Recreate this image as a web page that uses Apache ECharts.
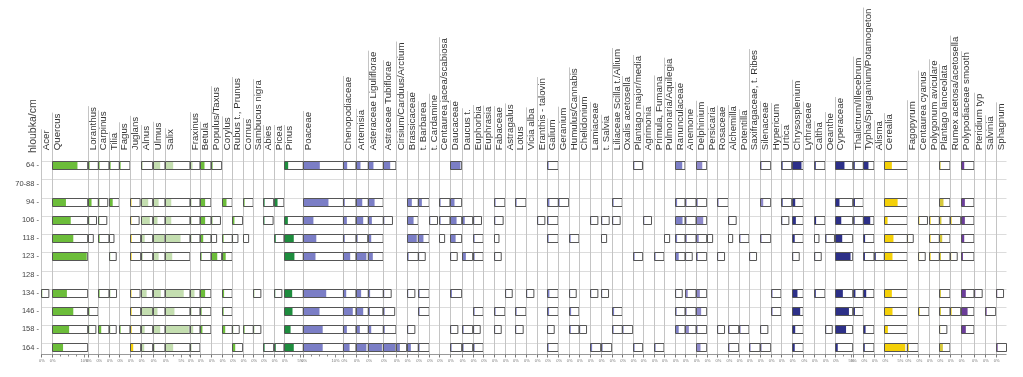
<!DOCTYPE html>
<html lang="cs">
<head>
<meta charset="UTF-8">
<title>Pylový diagram</title>
<script src="https://cdn.jsdelivr.net/npm/echarts@6/dist/echarts.min.js"></script>
<style>
    html, body { margin: 0; padding: 0; background: #fff; }
    #main { width: 1023px; height: 377px; }
</style>
</head>
<body>
<div id="main"></div>
<script>
// hloubky (radky diagramu), 70-88 a 128 bez vzorku
var depths = ['64', '70-88', '94', '106', '118', '123', '128', '134', '146', '158', '164'];
var sampled = ['64', '94', '106', '118', '123', '134', '146', '158', '164'];

// dreviny -- sirka sloupce v %, barevna skupina, hodnoty v % pro vzorky
var treeNames = ['Acer', 'Quercus', 'Loranthus', 'Carpinus', 'Tilia', 'Fagus', 'Juglans', 'Alnus', 'Ulmus', 'Salix',
    'Fraxinus', 'Betula', 'Populus/Taxus', 'Corylus', 'Rubus t., Prunus', 'Cornus', 'Sambucus nigra', 'Abies', 'Picea', 'Pinus'];
var treeSpan = [3.34, 11.25, 3.31, 3.34, 3.22, 3.34, 3.34, 3.75, 3.84, 7.81,
    3.13, 3.44, 3.34, 3.31, 3.25, 3.31, 3.13, 3.25, 3.22, 6.03];
var treeTint = ['g', 'g', 'g', 'g', 'g', 'g', 'y', 'lg', 'lg', 'lg',
    'lg', 'g', 'g', 'g', 'g', 'g', 'g', 'dg', 'dg', 'dg'];
var treePct = [
    [0, 0, 0, 0, 0, .23, 0, 0, 0],
    [7.8, 4.2, 5.7, 6.5, 10.7, 4.5, 6.5, 5.2, 3.3],
    [.35, .95, .25, .15, 0, 0, .3, .23, 0],
    [.35, .29, .26, .35, 0, .35, 0, .85, 0],
    [.35, 1.0, 0, .14, .21, .22, 0, .21, 0],
    [.35, 0, 0, 0, 0, 0, 0, .35, 0],
    [0, .3, .27, .35, .35, .3, .35, .35, .85],
    [.4, 2.1, 2.6, 1.0, .4, 1.6, 3.4, 1.0, .85],
    [2.1, 1.6, 1.25, 3.3, 1.6, 2.3, 1.25, 2.1, .4],
    [2.4, 1.8, 1.8, 4.7, 2.1, 5.7, 2.8, 7.3, 2.4],
    [.63, .35, .35, .35, 0, 1.25, .35, .85, .35],
    [1.25, 1.45, 1.45, .85, .35, 1.45, .35, .6, 0],
    [.35, 0, .28, .16, 1.8, 0, 0, 0, 0],
    [0, 1.25, 0, .35, 1.0, .5, .35, .85, 0],
    [0, 0, .6, .17, 0, 0, 0, .21, .85],
    [0, .35, 0, .16, 0, 0, 0, .35, 0],
    [0, 0, 0, 0, 0, .23, 0, .23, 0],
    [0, .35, .3, 0, 0, 0, 0, 0, .35],
    [0, .95, 0, .4, 0, .23, 0, 0, .4],
    [1.15, 0, 1.05, 2.9, 3.1, 2.4, 2.5, 1.9, 2.9]
];

// byliny
var herbNames = ['Poaceae', 'Chenopodiaceae', 'Artemisia', 'Asteraceae Liguliflorae', 'Astraceae Tubiflorae',
    'Cirsium/Carduus/Arctium', 'Brassicaceae', 't. Barbarea', 't. Cardamine', 'Centaurea jacea/scabiosa',
    'Daucaceae', 'Daucus t.', 'Euphorbia', 'Euphrasia', 'Fabaceae', 'Astragalus', 'Lotus', 'Vicia alba',
    'Eranthis - talovin', 'Galium', 'Geranium', 'Humulus/Cannabis', 'Chelidonium', 'Lamiaceae', 't. Salvia',
    'Liliaceae Scilla t./Allium', 'Oxalis acetosella', 'Plantago major/media', 'Agrimonia', 'Primula, Fumana',
    'Pulmonaria/Aquilegia'];
var herbSpan = [12.56, 3.91, 3.84, 4.69, 3.97, 3.34, 3.63, 3.44, 3.13, 3.34,
    3.66, 3.44, 3.31, 3.34, 3.44, 3.13, 3.44, 3.34, 3.31, 3.44,
    3.25, 3.22, 3.44, 3.34, 3.44, 3.31, 3.25, 3.13, 3.53, 3.13, 3.44];
var herbPct = [
    [5.1, 7.8, 3.1, 4.0, 3.75, 7.1, 5.0, 6.0, 6.0],
    [1.15, .4, 1.05, .4, 2.1, .85, 2.9, 1.05, 1.9],
    [1.25, 1.8, 2.1, .35, 3.1, 1.45, 2.1, 1.05, 3.1],
    [1.55, 1.9, 1.05, .85, 1.35, .5, .45, .85, 4.2],
    [2.1, 0, .28, 0, 0, .24, .35, .4, 3.6],
    [0, 0, 0, 0, 0, 0, 0, 0, 1.05],
    [0, 1.35, 1.9, 2.9, .35, .23, 0, .23, 1.05],
    [0, 1.05, 0, 1.55, .21, .35, .35, 0, .35],
    [0, 0, .25, 0, 0, 0, 0, 0, 0],
    [0, .35, .35, .16, 0, 0, 0, 0, 0],
    [3.1, 1.25, 1.9, 1.6, .21, .45, 0, .23, .35],
    [0, 0, .7, 0, 1.05, 0, 0, .35, .35],
    [0, 0, .25, .35, .35, 0, .35, .21, .35],
    [0, 0, 0, 0, 0, 0, 0, 0, 0],
    [0, .33, .27, .14, .21, 0, .33, .21, 0],
    [0, 0, 0, 0, 0, .21, 0, 0, 0],
    [0, .35, 0, 0, 0, 0, .35, .24, 0],
    [0, 0, 0, 0, 0, .23, 0, 0, 0],
    [0, 0, .23, 0, 0, 0, 0, 0, 0],
    [.35, .6, .33, .35, 0, .6, .5, .21, .35],
    [0, .35, 0, 0, 0, 0, 0, 0, 0],
    [0, 0, 0, .35, 0, .21, .5, .4, 0],
    [0, 0, 0, 0, 0, 0, 0, .22, 0],
    [0, 0, .23, 0, 0, .23, 0, 0, .5],
    [0, 0, .24, .16, 0, .22, 0, 0, .35],
    [0, .35, .24, 0, 0, 0, .5, .35, 0],
    [0, 0, 0, 0, 0, 0, 0, .33, 0],
    [.28, 0, 0, 0, .35, 0, 0, 0, .35],
    [0, 0, .25, 0, 0, 0, 0, 0, 0],
    [0, 0, 0, 0, .33, 0, 0, 0, .35],
    [0, 0, 0, .16, 0, 0, 0, 0, 0]
];

var herb2Names = ['Ranunculaceae', 'Anemone', 'Delphinium', 'Persicaria', 'Rosaceae', 'Alchemilla', 'Potentilla',
    'Saxifragaceae, t. Ribes', 'Silenaceae', 'Hypericum', 'Urtica', 'Chrysosplenium', 'Lythraceae', 'Caltha', 'Oeanthe'];
var herb2Span = [3.13, 3.44, 3.34, 3.31, 3.44, 3.25, 3.22, 3.44, 3.34, 3.22, 3.34, 3.63, 3.34, 3.44, 3.13];
var herb2Tint = ['b', 'lb', 'lb', 'lb', 'lb', 'lb', 'lb', 'lb', 'lb', 'lb', 'n', 'n', 'n', 'n', 'n'];
var herb2Pct = [
    [2.1, .5, 2.2, .5, 1.0, .21, .35, 1.0, 0],
    [0, .35, .35, .4, .21, .7, .35, 1.05, 0],
    [1.8, .4, 2.1, .7, .4, 1.05, 1.45, .35, 1.25],
    [0, 0, 0, .16, 0, 0, 0, 0, 0],
    [0, .35, 0, 0, .22, 0, 0, .22, 0],
    [0, 0, .24, .13, 0, 0, 0, .35, .35],
    [0, 0, 0, .33, 0, 0, 0, .35, 0],
    [0, 0, 0, 0, .22, 0, 0, 0, .35],
    [.35, .85, 0, .35, 0, 0, 0, .23, .35],
    [0, 0, 0, 0, 0, .35, .35, 0, 0],
    [.35, .35, .23, 0, 0, 0, 0, 0, 0],
    [2.8, .85, 1.05, .7, .21, 1.55, 2.4, .85, .7],
    [0, 0, 0, 0, 0, 0, 0, 0, 0],
    [.4, 0, .5, .14, .21, .4, 0, 0, 0],
    [0, 0, 0, .28, 0, 0, 0, .21, 0]
];

// mokrad, kulturni plodiny, vytrusy
var restNames = ['Cyperaceae', 'Thalictrum/Illecebrum', 'Typha/Sparganium/Potamogeton', 'Alisma', 'Cerealia',
    'Fagopyrum', 'Centaurea cyanus', 'Polygonum aviculare', 'Plantago lanceolata', 'Rumex acetosa/acetosella',
    'Polypodiaceae smooth', 'Pteridium typ', 'Salvinia', 'Sphagnum'];
var restSpan = [5.53, 3.31, 3.34, 3.22, 7.19, 3.44, 3.34, 3.22, 3.34, 3.34, 4.16, 3.44, 3.34, 3.38];
var restTint = ['n', 'n', 'n', 'n', 'y', 'y', 'y', 'y', 'o', 'y', 'p', 'p', 'p', 'p'];
var restPct = [
    [2.8, 1.25, 1.8, 2.1, 4.7, 2.3, 4.2, 3.3, .7],
    [.4, .45, .35, 0, 0, .6, .45, 0, 0],
    [1.55, 0, 2.1, .5, .45, .85, 0, .65, .4],
    [0, 0, 0, 0, .4, 0, 0, 0, 0],
    [2.3, 4.1, .95, 2.8, 2.5, 2.3, 2.5, 1.05, 6.5],
    [0, 0, 0, .18, 0, 0, 0, 0, .4],
    [0, 0, .28, 0, .21, 0, .35, 0, 0],
    [0, 0, .35, .33, .35, 0, 0, 0, 0],
    [.35, 1.25, .6, .85, .45, .45, .45, .23, 1.05],
    [0, 0, .35, 0, .21, 0, .35, 0, 0],
    [.85, 1.05, 1.05, .85, .45, 1.35, 1.9, 1.35, 0],
    [0, 0, 0, 0, 0, .24, 0, 0, 0],
    [0, 0, 0, 0, 0, 0, .35, 0, 0],
    [0, 0, 0, 0, 0, .22, 0, 0, .35]
];

var tintColor = {g: '#6cbd3a', lg: '#c4deb0', dg: '#1e8c3e', y: '#f4d008', o: '#d6c83a',
    b: '#7b7ec6', lb: '#8d88ca', n: '#2d3088', p: '#6b3d99'};
var exaggeration = 10;

var names = treeNames.concat(herbNames, herb2Names, restNames);
var spans = treeSpan.concat(herbSpan, herb2Span, restSpan);
var tints = treeTint.concat(herbNames.map(function () { return 'b'; }), herb2Tint, restTint);
var pct = treePct.concat(herbPct, herb2Pct, restPct);

var starts = [];
var total = 0;
spans.forEach(function (s) { starts.push(total); total += s; });

var fontFam = '"Liberation Sans", Arial, sans-serif';
var labelSize = 9.7;
var measure = document.createElement('canvas').getContext('2d');
measure.font = labelSize + 'px ' + fontFam;

var colData = names.map(function (n, i) { return [starts[i], 0, spans[i], i]; });
var rowData = depths.map(function (d, i) { return [0, i]; });

function geom(api) {
    var sz = api.size([1, 1]);
    return {k: sz[0], band: sz[1], barH: Math.round(sz[1] * 0.46)};
}

function renderGrid(params, api) {
    var g = geom(api);
    var cs = params.coordSys;
    var cy = api.coord([0, api.value(1)])[1];
    var y = Math.round(cy - g.barH / 2) + 0.5;
    return {type: 'line', shape: {x1: cs.x, y1: y, x2: cs.x + cs.width, y2: y},
        style: {stroke: '#dcdcdc', lineWidth: 1}, silent: true};
}

function renderColumn(params, api) {
    var g = geom(api);
    var i = api.value(3);
    var x0 = api.coord([api.value(0), 0])[0];
    var x1 = api.coord([api.value(0) + api.value(2), 0])[0];
    var xl = Math.round(x0) + 0.5;
    var row0 = api.coord([0, 0])[1];
    var labelY = row0 - 15;
    var axisY = Math.round(api.coord([0, depths.length - 1])[1] + g.band * 0.36) + 0.5;
    var textW = measure.measureText(names[i]).width;
    var kids = [];

    kids.push({type: 'line', shape: {x1: xl, y1: labelY - textW - 1, x2: xl, y2: axisY},
        style: {stroke: '#c4c4c4', lineWidth: 1}});
    kids.push({type: 'text', x: x0 + 0.3, y: labelY, rotation: Math.PI / 2,
        style: {text: names[i], fontSize: labelSize, fontFamily: fontFam,
            fill: '#333', align: 'left', verticalAlign: 'top'}});

    var color = tintColor[tints[i]];
    pct[i].forEach(function (v, s) {
        if (!v) return;
        var cy = api.coord([0, depths.indexOf(sampled[s])])[1];
        var yt = Math.round(cy - g.barH / 2) + 0.5;
        var room = x1 - xl;
        var wBox = Math.min(v * exaggeration * g.k, room);
        var wFill = Math.min(v * g.k, room);
        kids.push({type: 'rect', shape: {x: xl, y: yt, width: wBox, height: g.barH},
            style: {fill: '#fff', stroke: null}});
        kids.push({type: 'rect', shape: {x: xl, y: yt, width: wFill, height: g.barH},
            style: {fill: color, stroke: null}});
        kids.push({type: 'rect', shape: {x: xl, y: yt, width: wBox, height: g.barH},
            style: {fill: null, stroke: '#555', lineWidth: 1}});
    });

    // spodni osa sloupce
    kids.push({type: 'line', shape: {x1: x0, y1: axisY, x2: x1, y2: axisY},
        style: {stroke: '#999', lineWidth: 1}});
    kids.push({type: 'line', shape: {x1: xl, y1: axisY, x2: xl, y2: axisY + 3},
        style: {stroke: '#777', lineWidth: 1}});
    kids.push({type: 'text', x: x0 + 1, y: axisY + 4,
        style: {text: '0%', fontSize: 4, fill: '#777', align: 'center', verticalAlign: 'top'}});
    var span = api.value(2);
    if (span > 5) {
        for (var t = 2.5; t < span; t += 2.5) {
            var xt = Math.round(api.coord([api.value(0) + t, 0])[0]) + 0.5;
            var major = (span >= 10 && t === 10) || (span < 10 && t === 5);
            kids.push({type: 'line', shape: {x1: xt, y1: axisY, x2: xt, y2: axisY + (major ? 3 : 2)},
                style: {stroke: '#888', lineWidth: 1}});
            if (major) {
                kids.push({type: 'text', x: xt, y: axisY + 4,
                    style: {text: t + '%', fontSize: 4, fill: '#777', align: 'center', verticalAlign: 'top'}});
            }
        }
    }
    return {type: 'group', children: kids};
}

var chart = echarts.init(document.getElementById('main'), null, {renderer: 'canvas'});
chart.setOption({
    animation: false,
    backgroundColor: '#fff',
    grid: {left: 41, right: 16.5, top: 156.1, bottom: 20.4},
    xAxis: {type: 'value', min: 0, max: total, show: false},
    yAxis: {
        type: 'category', data: depths, inverse: true,
        axisLine: {show: false}, axisTick: {show: false}, splitLine: {show: false},
        axisLabel: {fontSize: 7.5, color: '#444', margin: 2, fontFamily: fontFam,
            formatter: function (v) { return v + ' -'; }}
    },
    graphic: [{
        type: 'text', x: 28, y: 153, rotation: Math.PI / 2,
        style: {text: 'hloubka/cm', fontSize: 10.5, fontFamily: fontFam,
            fill: '#444', align: 'left', verticalAlign: 'top'}
    }],
    series: [
        {type: 'custom', z: 1, silent: true, data: rowData, renderItem: renderGrid,
            encode: {x: 0, y: 1}},
        {type: 'custom', z: 2, silent: true, data: colData, renderItem: renderColumn,
            encode: {x: 0, y: 1}}
    ]
});
</script>
</body>
</html>
